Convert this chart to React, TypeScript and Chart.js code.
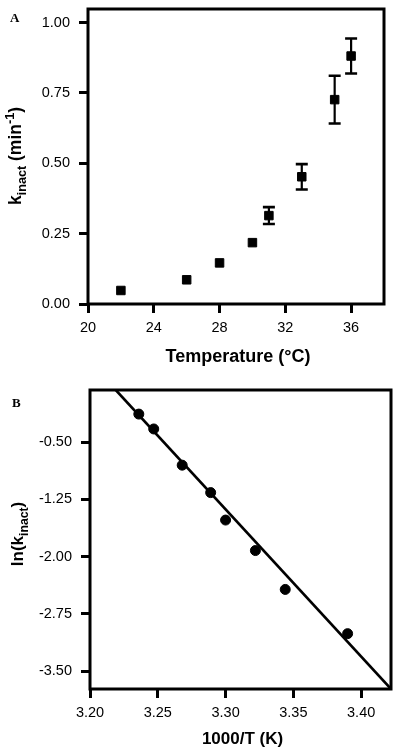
import React, { useEffect, useRef } from "react";
import { Chart, registerables } from "chart.js";
Chart.register(...registerables);

// ---------- Panel A data ----------
const TEMP_C = [22, 26, 28, 30, 31, 33, 35, 36];
const K_INACT = [0.048, 0.086, 0.146, 0.218, 0.314, 0.452, 0.726, 0.881];
const K_ERR = [0, 0, 0, 0, 0.03, 0.045, 0.085, 0.062];
const A_X_TICKS = [20, 24, 28, 32, 36];
const A_Y_TICKS = [0, 0.25, 0.5, 0.75, 1.0];

// ---------- Panel B data ----------
const INV_T = [3.236, 3.247, 3.268, 3.289, 3.3, 3.322, 3.344, 3.39];
const LN_K = [-0.13, -0.325, -0.8, -1.16, -1.52, -1.92, -2.43, -3.01];
const FIT_X = [3.219, 3.422];
const FIT_Y = [0.186, -3.736];
const B_X_TICKS = [3.2, 3.25, 3.3, 3.35, 3.4];
const B_Y_TICKS = [-3.5, -2.75, -2.0, -1.25, -0.5];

const SANS = "'Liberation Sans', Arial, sans-serif";
const SERIF = "'Liberation Serif', 'Times New Roman', serif";

type Seg = { t: string; s: number; dy: number };

function drawRich(
  ctx: CanvasRenderingContext2D,
  segs: Seg[],
  x: number,
  y: number,
  rot: number,
  size: number
) {
  ctx.save();
  ctx.translate(x, y);
  ctx.rotate(rot);
  ctx.fillStyle = "#000";
  ctx.textAlign = "left";
  ctx.textBaseline = "alphabetic";
  let total = 0;
  const widths = segs.map((sg) => {
    ctx.font = `bold ${size * sg.s}px ${SANS}`;
    const w = ctx.measureText(sg.t).width;
    total += w;
    return w;
  });
  let cx = -total / 2;
  segs.forEach((sg, i) => {
    ctx.font = `bold ${size * sg.s}px ${SANS}`;
    ctx.fillText(sg.t, cx, sg.dy * size);
    cx += widths[i];
  });
  ctx.restore();
}

function makeScale(
  min: number,
  max: number,
  ticksArr: number[],
  isX: boolean,
  fixedSize: number,
  digits: number,
  labelPad: number
) {
  return {
    type: "linear",
    min,
    max,
    afterBuildTicks: (s: any) => {
      s.ticks = ticksArr.map((v) => ({ value: v }));
    },
    afterFit: (s: any) => {
      if (isX) s.height = fixedSize;
      else s.width = fixedSize;
      s.paddingTop = 0;
      s.paddingBottom = 0;
      s.paddingLeft = 0;
      s.paddingRight = 0;
    },
    ticks: {
      color: "#000",
      font: { family: SANS, size: 14.5 },
      padding: labelPad,
      maxRotation: 0,
      autoSkip: false,
      callback: (v: any) => Number(v).toFixed(digits),
    },
    grid: {
      display: true,
      drawOnChartArea: false,
      drawTicks: true,
      tickLength: 9,
      tickWidth: 3,
      tickColor: "#000",
      color: "#000",
    },
    border: { display: false },
  };
}

type PanelCfg = {
  letter: string;
  letterX: number;
  letterY: number;
  xTitle: string;
  xTitleSize: number;
  xTitleY: number;
  yTitle: Seg[];
  yTitleSize: number;
  yTitleX: number;
  yTitleY: number;
  errors?: { xs: number[]; ys: number[]; es: number[] };
};

function makePlugin(cfg: PanelCfg) {
  return {
    id: "panelDecor" + cfg.letter,
    beforeDatasetsDraw(chart: any) {
      const { ctx, chartArea } = chart;
      ctx.save();
      ctx.strokeStyle = "#000";
      ctx.lineWidth = 3;
      ctx.strokeRect(
        chartArea.left,
        chartArea.top,
        chartArea.right - chartArea.left,
        chartArea.bottom - chartArea.top
      );
      ctx.restore();
    },
    afterDatasetsDraw(chart: any) {
      if (!cfg.errors) return;
      const { ctx } = chart;
      const xs = chart.scales.x;
      const ys = chart.scales.y;
      ctx.save();
      ctx.strokeStyle = "#000";
      cfg.errors.xs.forEach((xv, i) => {
        const e = cfg.errors!.es[i];
        if (!e) return;
        const px = xs.getPixelForValue(xv);
        const pTop = ys.getPixelForValue(cfg.errors!.ys[i] + e);
        const pBot = ys.getPixelForValue(cfg.errors!.ys[i] - e);
        ctx.lineWidth = 2.2;
        ctx.beginPath();
        ctx.moveTo(px, pTop);
        ctx.lineTo(px, pBot);
        ctx.stroke();
        ctx.lineWidth = 2.6;
        ctx.beginPath();
        ctx.moveTo(px - 6, pTop);
        ctx.lineTo(px + 6, pTop);
        ctx.moveTo(px - 6, pBot);
        ctx.lineTo(px + 6, pBot);
        ctx.stroke();
      });
      ctx.restore();
    },
    afterDraw(chart: any) {
      const { ctx, chartArea } = chart;
      ctx.save();
      ctx.fillStyle = "#000";
      ctx.textBaseline = "alphabetic";
      ctx.textAlign = "left";
      ctx.font = `bold 13px ${SERIF}`;
      ctx.fillText(cfg.letter, cfg.letterX, cfg.letterY);
      ctx.textAlign = "center";
      ctx.font = `bold ${cfg.xTitleSize}px ${SANS}`;
      ctx.fillText(
        cfg.xTitle,
        (chartArea.left + chartArea.right) / 2 + 2,
        cfg.xTitleY
      );
      ctx.restore();
      drawRich(
        ctx,
        cfg.yTitle,
        cfg.yTitleX,
        cfg.yTitleY,
        -Math.PI / 2,
        cfg.yTitleSize
      );
    },
  };
}

export default function App() {
  const refA = useRef<HTMLCanvasElement>(null);
  const refB = useRef<HTMLCanvasElement>(null);

  useEffect(() => {
    const chartA = new Chart(refA.current as HTMLCanvasElement, {
      type: "scatter",
      data: {
        datasets: [
          {
            data: TEMP_C.map((x, i) => ({ x, y: K_INACT[i] })),
            pointStyle: "rect",
            pointRadius: 6,
            pointHoverRadius: 6,
            backgroundColor: "#000",
            borderColor: "#000",
            borderWidth: 1,
          },
        ],
      },
      options: {
        responsive: false,
        animation: false,
        devicePixelRatio: 1,
        events: [],
        layout: { padding: { top: 9, right: 16, left: 0, bottom: 0 } },
        plugins: { legend: { display: false }, tooltip: { enabled: false } },
        scales: {
          x: makeScale(20, 38, A_X_TICKS, true, 66, 0, 6),
          y: makeScale(0, 1.048, A_Y_TICKS, false, 88, 2, 9),
        },
      } as any,
      plugins: [
        makePlugin({
          letter: "A",
          letterX: 10,
          letterY: 22,
          xTitle: "Temperature (°C)",
          xTitleSize: 18,
          xTitleY: 362,
          yTitle: [
            { t: "k", s: 1, dy: 0 },
            { t: "inact", s: 0.72, dy: 0.3 },
            { t: " (min", s: 1, dy: 0 },
            { t: "-1", s: 0.72, dy: -0.38 },
            { t: ")", s: 1, dy: 0 },
          ],
          yTitleSize: 17.5,
          yTitleX: 21,
          yTitleY: 156,
          errors: { xs: TEMP_C, ys: K_INACT, es: K_ERR },
        }),
      ],
    } as any);

    const chartB = new Chart(refB.current as HTMLCanvasElement, {
      type: "scatter",
      data: {
        datasets: [
          {
            data: INV_T.map((x, i) => ({ x, y: LN_K[i] })),
            pointStyle: "circle",
            pointRadius: 5,
            pointHoverRadius: 5,
            backgroundColor: "#000",
            borderColor: "#000",
            borderWidth: 1,
          },
          {
            data: FIT_X.map((x, i) => ({ x, y: FIT_Y[i] })),
            showLine: true,
            pointRadius: 0,
            borderColor: "#000",
            borderWidth: 2.6,
            backgroundColor: "#000",
          },
        ],
      },
      options: {
        responsive: false,
        animation: false,
        devicePixelRatio: 1,
        events: [],
        layout: { padding: { top: 20, right: 9, left: 0, bottom: 0 } },
        plugins: { legend: { display: false }, tooltip: { enabled: false } },
        scales: {
          x: makeScale(3.2, 3.422, B_X_TICKS, true, 63, 2, 6),
          y: makeScale(-3.736, 0.186, B_Y_TICKS, false, 90, 2, 9),
        },
      } as any,
      plugins: [
        makePlugin({
          letter: "B",
          letterX: 12,
          letterY: 37,
          xTitle: "1000/T (K)",
          xTitleSize: 17,
          xTitleY: 374,
          yTitle: [
            { t: "ln(k", s: 1, dy: 0 },
            { t: "inact", s: 0.72, dy: 0.3 },
            { t: ")", s: 1, dy: 0 },
          ],
          yTitleSize: 17,
          yTitleX: 23,
          yTitleY: 164,
        }),
      ],
    } as any);

    return () => {
      chartA.destroy();
      chartB.destroy();
    };
  }, []);

  return (
    <div
      style={{
        position: "absolute",
        left: 0,
        top: 0,
        width: 400,
        height: 752,
        background: "#fff",
      }}
    >
      <canvas
        ref={refA}
        width={400}
        height={370}
        style={{ display: "block", width: 400, height: 370 }}
      />
      <canvas
        ref={refB}
        width={400}
        height={382}
        style={{ display: "block", width: 400, height: 382 }}
      />
    </div>
  );
}
